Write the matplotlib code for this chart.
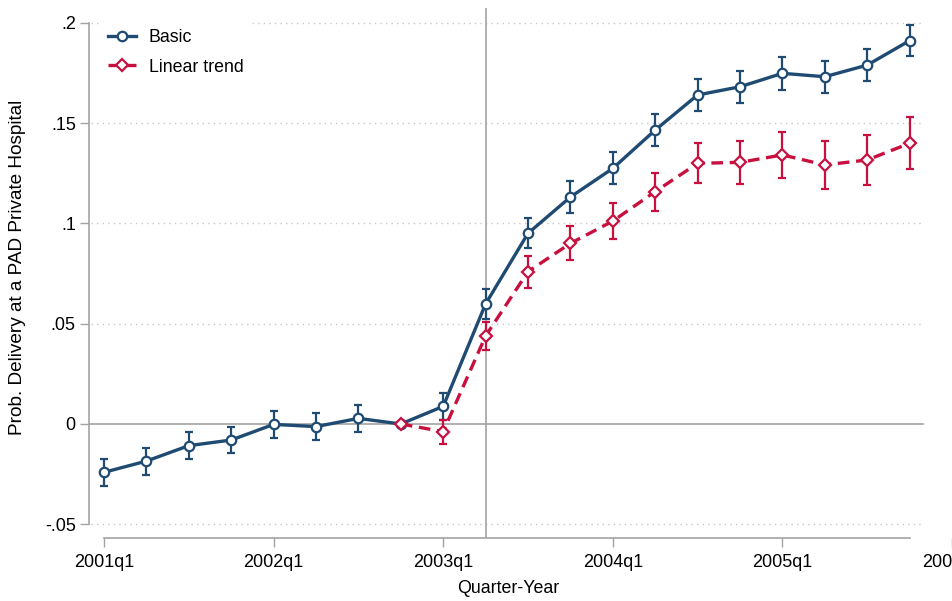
import numpy as np
import matplotlib.pyplot as plt

# quarterly event-study estimates, 2001q1 .. 2005q4 (2002q4 is the omitted quarter)
quarters = ['2001q1', '2001q2', '2001q3', '2001q4',
            '2002q1', '2002q2', '2002q3', '2002q4',
            '2003q1', '2003q2', '2003q3', '2003q4',
            '2004q1', '2004q2', '2004q3', '2004q4',
            '2005q1', '2005q2', '2005q3', '2005q4']
basic = [-0.0241, -0.0185, -0.0108, -0.0080,
         -0.0002, -0.0013, 0.0028, 0.0,
         0.0088, 0.0599, 0.0951, 0.1132,
         0.1275, 0.1466, 0.1641, 0.1682,
         0.1749, 0.1732, 0.1790, 0.1912]
basic_ci = [0.0067, 0.0067, 0.0066, 0.0067,
            0.0067, 0.0068, 0.0067, np.nan,
            0.0067, 0.0075, 0.0075, 0.0078,
            0.0080, 0.0080, 0.0082, 0.0080,
            0.0081, 0.0080, 0.0080, 0.0078]
# linear-trend spec only reported from the omitted quarter on
trend = [np.nan] * 7 + [0.0,
         -0.0038, 0.0439, 0.0760, 0.0901,
         0.1012, 0.1159, 0.1300, 0.1305,
         0.1342, 0.1292, 0.1317, 0.1400]
trend_ci = [np.nan] * 7 + [np.nan,
            0.0060, 0.0068, 0.0080, 0.0085,
            0.0090, 0.0095, 0.0100, 0.0107,
            0.0115, 0.0120, 0.0125, 0.0130]
tick_pos = [0, 4, 8, 12, 16, 20]
tick_labels = ['2001q1', '2002q1', '2003q1', '2004q1', '2005q1', '2006q1']
policy_q = '2003q2'

navy = '#1f4b73'
red = '#c8103e'
gray = '#a3a3a3'

plt.rcParams['font.family'] = ['Liberation Sans', 'DejaVu Sans']
plt.rcParams['font.size'] = 12.5

fig = plt.figure(figsize=(9.52, 6.01), dpi=100)
ax = fig.add_axes([89 / 952, 63 / 601, 863 / 952, 530 / 601])

x = np.arange(len(quarters))
basic = np.array(basic)
basic_ci = np.array(basic_ci)
trend = np.array(trend)
trend_ci = np.array(trend_ci)

# grid + zero line + policy line
for g in [-0.05, 0.05, 0.1, 0.15, 0.2]:
    ax.plot([-0.3, 19.32], [g, g], color='#c8c8c8', lw=1.0,
            ls=(0, (1, 3)), zorder=0)
ax.plot([-0.354, 19.32], [0, 0], color=gray, lw=1.2, zorder=1)
ax.axvline(quarters.index(policy_q), color=gray, lw=1.2, zorder=1)

# basic
m = ~np.isnan(basic_ci)
ax.errorbar(x[m], basic[m], yerr=basic_ci[m], fmt='none', ecolor=navy,
            elinewidth=1.6, capsize=3, capthick=1.6, zorder=3)
ax.plot(x, basic, color=navy, lw=2.4, marker='o', ms=6.8, mfc='white',
        mec=navy, mew=1.6, zorder=4, label='Basic')

# linear trend
m = ~np.isnan(trend_ci)
ax.errorbar(x[m], trend[m], yerr=trend_ci[m], fmt='none', ecolor=red,
            elinewidth=1.6, capsize=3, capthick=1.6, zorder=5)
ax.plot(x, trend, color=red, lw=2.4, ls='--', dashes=(3.5, 2),
        marker='D', ms=6, mfc='white', mec=red, mew=1.6, zorder=6,
        label='Linear trend')

ax.set_xlim(-0.354, 20)
ax.set_ylim(-0.05686, 0.20748)

for s in ['top', 'right']:
    ax.spines[s].set_visible(False)
ax.spines['left'].set_bounds(-0.05, 0.2)
ax.spines['bottom'].set_bounds(0, 19)
for s in ['left', 'bottom']:
    ax.spines[s].set_color(gray)
    ax.spines[s].set_linewidth(1.2)

ax.set_yticks([-0.05, 0, 0.05, 0.1, 0.15, 0.2])
ax.set_yticklabels(['-.05', '0', '.05', '.1', '.15', '.2'])
ax.set_xticks(tick_pos)
ax.set_xticklabels(tick_labels)
ax.tick_params(axis='both', color=gray, width=1.0, length=6.5, labelsize=13)
ax.tick_params(axis='x', pad=5)
ax.tick_params(axis='y', pad=3)

ax.set_ylabel('Prob. Delivery at a PAD Private Hospital', fontsize=13.7)
ax.yaxis.set_label_coords(-0.073, 0.51)
ax.set_xlabel('Quarter-Year', fontsize=12.8)
ax.xaxis.set_label_coords(0.4855, -0.079)

leg = ax.legend(loc='upper left', bbox_to_anchor=(0.0139, 0.974),
                borderaxespad=0, borderpad=0.4, handlelength=1.55,
                handletextpad=0.75, labelspacing=0.72, fontsize=12.8,
                frameon=True, fancybox=False, edgecolor='none',
                facecolor='white', framealpha=1)
leg.set_zorder(10)

fig.savefig('out.png', dpi=100)
